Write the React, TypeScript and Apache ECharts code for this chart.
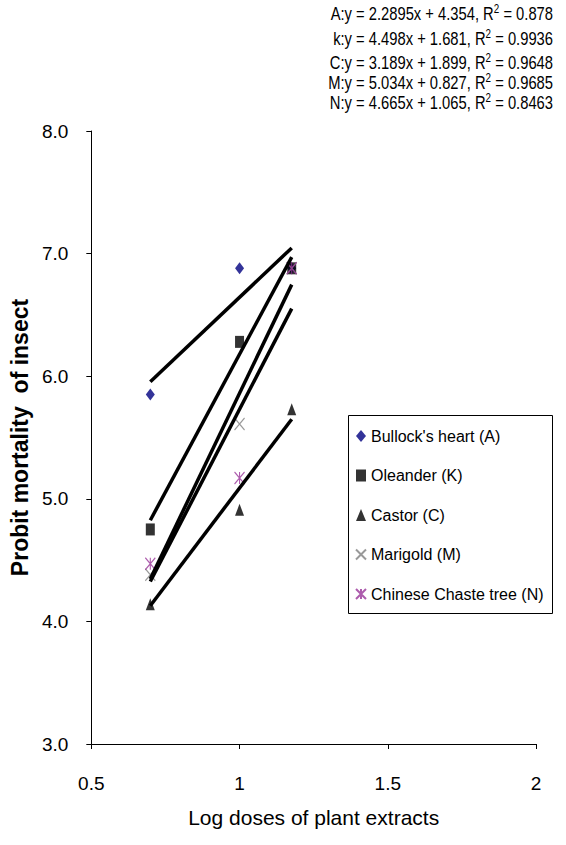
import React, { useEffect, useRef } from "react";
import * as echarts from "echarts";

const doses = [0.699, 1.0, 1.176];
const seriesNames = [
  "Bullock's heart (A)",
  "Oleander (K)",
  "Castor (C)",
  "Marigold (M)",
  "Chinese Chaste tree (N)",
];
const bullocksHeart = [5.85, 6.88, 6.88];
const oleander = [4.75, 6.28, 6.88];
const castor = [4.14, 4.91, 5.73];
const marigold = [4.38, 5.61, 6.88];
const chineseChaste = [4.47, 5.17, 6.88];

const eqLabels = ["A", "k", "C", "M", "N"];
const slopes = [2.2895, 4.498, 3.189, 5.034, 4.665];
const intercepts = ["4.354", "1.681", "1.899", "0.827", "1.065"];
const rSquared = ["0.878", "0.9936", "0.9648", "0.9685", "0.8463"];

const yTicks = [3, 4, 5, 6, 7, 8];
const xTicks = [0.5, 1, 1.5, 2];

const FONT = "'Liberation Sans', Arial, sans-serif";

export default function App() {
  const ref = useRef<HTMLDivElement>(null);
  useEffect(() => {
    document.body.style.margin = "0";
    if (!ref.current) return;
    const chart = echarts.init(ref.current, null, { renderer: "svg" });

    const values = [bullocksHeart, oleander, castor, marigold, chineseChaste];
    const symbols = [
      "diamond",
      "rect",
      "triangle",
      "path://M0,0L10,10M10,0L0,10",
      "path://M0,0L10,10M10,0L0,10M5,0L5,10",
    ];
    const sizes: any[] = [[9, 12], [9, 12], [9, 12], [10, 12], [10, 12]];
    const colors = ["#000080", "#000000", "#000000", "#808080", "#993399"];

    const scatter = values.map((vals, i) => ({
      name: seriesNames[i],
      type: "scatter",
      symbol: symbols[i],
      symbolSize: sizes[i],
      z: 2,
      itemStyle:
        i >= 3
          ? { color: "transparent", borderColor: colors[i], borderWidth: 1.2 }
          : { color: colors[i] },
      data: doses.map((d, j) => [d, vals[j]]),
    }));

    const x0 = doses[0];
    const x1 = doses[doses.length - 1];
    const trend = slopes.map((s, i) => ({
      name: "trend " + eqLabels[i],
      type: "line",
      symbol: "none",
      z: 3,
      lineStyle: { color: "#000", width: 3.5 },
      data: [
        [x0, s * x0 + Number(intercepts[i])],
        [x1, s * x1 + Number(intercepts[i])],
      ],
    }));

    const eqCenters = [13, 38, 62, 82, 102];
    const eqGraphics = eqLabels.map((l, i) => ({
      type: "text",
      x: 553,
      y: eqCenters[i],
      scaleX: 0.82,
      style: {
        text: `{n|${l}:y = ${slopes[i]}x + ${intercepts[i]}, R}{s|2}{n| = ${rSquared[i]}}`,
        align: "right",
        verticalAlign: "middle",
        rich: {
          n: { fontFamily: FONT, fontSize: 18, fill: "#000", lineHeight: 20 },
          s: { fontFamily: FONT, fontSize: 12, fill: "#000", lineHeight: 20, verticalAlign: "top" },
        },
      },
    }));

    chart.setOption({
      animation: false,
      backgroundColor: "#fff",
      grid: { left: 91, right: 30, top: 131, bottom: 101, containLabel: false },
      xAxis: {
        type: "value",
        min: xTicks[0],
        max: xTicks[xTicks.length - 1],
        interval: 0.5,
        splitLine: { show: false },
        axisLine: { lineStyle: { color: "#000", width: 1 } },
        axisTick: { show: true, length: 5, lineStyle: { color: "#000" } },
        axisLabel: { color: "#000", fontFamily: FONT, fontSize: 19, margin: 30, formatter: (v: number) => String(v) },
        name: "Log doses of plant extracts",
        nameLocation: "middle",
        nameGap: 63,
        nameTextStyle: { color: "#000", fontFamily: FONT, fontSize: 21 },
      },
      yAxis: {
        type: "value",
        min: yTicks[0],
        max: yTicks[yTicks.length - 1],
        interval: 1,
        splitLine: { show: false },
        axisLine: { show: true, lineStyle: { color: "#000", width: 1 } },
        axisTick: { show: true, length: 5, lineStyle: { color: "#000" } },
        axisLabel: { color: "#000", fontFamily: FONT, fontSize: 19, margin: 23, formatter: (v: number) => v.toFixed(1) },
        name: "Probit mortality  of insect",
        nameLocation: "middle",
        nameGap: 57,
        nameTextStyle: { color: "#000", fontFamily: FONT, fontWeight: "bold", fontSize: 23 },
      },
      legend: {
        data: seriesNames,
        orient: "vertical",
        left: 355,
        top: 426,
        padding: 0,
        itemWidth: 10,
        itemHeight: 12,
        itemGap: 19.5,
        textStyle: { color: "#000", fontFamily: FONT, fontSize: 16, lineHeight: 20 },
      },
      graphic: [
        {
          type: "rect",
          left: 346,
          top: 413,
          shape: { width: 204, height: 198 },
          style: { fill: "none", stroke: "#000", lineWidth: 1 },
          z: 1,
        },
        ...eqGraphics,
      ],
      series: [...scatter, ...trend],
    });
    return () => chart.dispose();
  }, []);
  return <div ref={ref} style={{ width: 566, height: 845 }} />;
}
